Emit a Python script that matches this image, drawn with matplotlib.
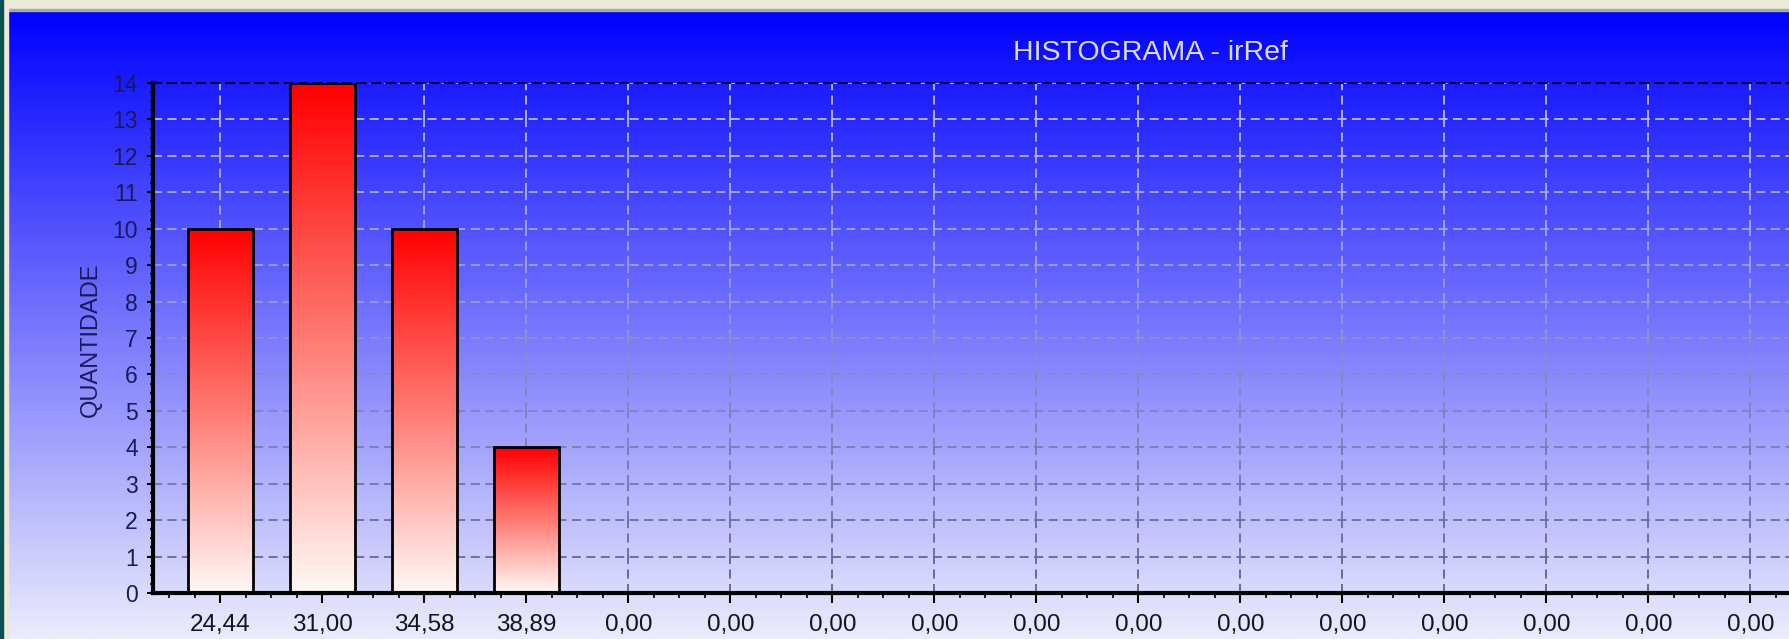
import matplotlib
matplotlib.use("Agg")
import matplotlib.pyplot as plt
import numpy as np
from matplotlib.colors import LinearSegmentedColormap
from matplotlib.collections import LineCollection
from matplotlib.patches import Rectangle
from matplotlib.ticker import MultipleLocator

plt.rcParams['font.family'] = ['Liberation Sans', 'DejaVu Sans']

# histogram classes and counts
classes = ["24,44", "31,00", "34,58", "38,89",
           "0,00", "0,00", "0,00", "0,00", "0,00", "0,00",
           "0,00", "0,00", "0,00", "0,00", "0,00", "0,00"]
counts = [10, 14, 10, 4, 0, 0, 0, 0, 0, 0, 0, 0, 0, 0, 0, 0]
y_ticks = list(range(0, 15))

W, H = 1789, 639
fig = plt.figure(figsize=(W / 100, H / 100), dpi=100)

# window background: blue -> lavender gradient with a thin frame
bg = fig.add_axes([0, 0, 1, 1])
bg.set_xlim(0, W)
bg.set_ylim(H, 0)
bg.axis('off')
t = np.linspace(0, 1, 512)[:, None]
top_c = np.array([0, 0, 255]) / 255
bot_c = np.array([236, 236, 252]) / 255
grad = (top_c * (1 - t) + bot_c * t)[:, None, :]
bg.imshow(grad, extent=[8, W, H, 10], aspect='auto', zorder=0)
bg.add_patch(Rectangle((0, 0), W, 10, color='#ece9d8', zorder=1))
bg.add_patch(Rectangle((0, 9), W, 1.5, color='#a8a8a8', zorder=1))
bg.add_patch(Rectangle((3, 0), 5, H, color='#ece9d8', zorder=1))
bg.add_patch(Rectangle((0, 0), 3, H, color='#0b5050', zorder=2))
bg.set_xlim(0, W)
bg.set_ylim(H, 0)

# plot area
left, right_px, top_px, bot_px = 153, W, 83, 593
ax = fig.add_axes([left / W, (H - bot_px) / H, (right_px - left) / W, (bot_px - top_px) / H])
ax.patch.set_alpha(0)

x = np.arange(len(classes))
px_per_cat = 102.0
x0 = -0.66
x1 = x0 + (right_px - left) / px_per_cat
ymax = 14

# dashed grid, lighter over the blue top and darker near the bottom
def grid_color(v):
    f = v / ymax
    lo = np.array([95, 95, 150]) / 255
    hi = np.array([195, 195, 255]) / 255
    return tuple(lo * (1 - f) + hi * f)

for yv in y_ticks[1:]:
    ax.axhline(yv, color=grid_color(yv), ls=(0, (5, 3)), lw=1.3, zorder=1)

segs, cols = [], []
for xi in x:
    for k in range(ymax):
        segs.append([(xi, k), (xi, k + 1)])
        cols.append(grid_color(k + 0.5))
ax.add_collection(LineCollection(segs, colors=cols, linestyles=[(0, (5, 3))], linewidths=1.3, zorder=1))

# bars with vertical red -> white fill
bar_cmap = LinearSegmentedColormap.from_list('redfade', ['#fff8f5', '#ff7a72', '#ff0000'])
bars = ax.bar(x, counts, width=0.64, facecolor='none', edgecolor='black', linewidth=2, zorder=3)
fill = np.linspace(0, 1, 256)[:, None]
for rect, h in zip(bars, counts):
    if h <= 0:
        continue
    bx = rect.get_x()
    im = ax.imshow(fill, extent=[bx, bx + rect.get_width(), 0, h], origin='lower',
                   aspect='auto', cmap=bar_cmap, zorder=2.5)
    im.set_clip_path(rect)

ax.set_xlim(x0, x1)
ax.set_ylim(0, ymax)

# axes styling
ax.spines['right'].set_visible(False)
ax.spines['top'].set_color('#000040')
ax.spines['top'].set_linestyle((0, (4, 3)))
ax.spines['top'].set_linewidth(1.5)
for s in ('left', 'bottom'):
    ax.spines[s].set_color('black')
    ax.spines[s].set_linewidth(3)

ax.set_xticks(x, classes)
ax.set_yticks(y_ticks)
ax.xaxis.set_minor_locator(MultipleLocator(0.25))
ax.yaxis.set_minor_locator(MultipleLocator(0.25))
ax.tick_params(axis='x', which='major', length=7, width=1.5, pad=8, labelsize=17.5, labelcolor='#141428')
ax.tick_params(axis='x', which='minor', length=3.5, width=1.2)
ax.tick_params(axis='y', which='major', length=4, width=1.5, pad=7, labelsize=16.5, labelcolor='#1a1a5a')
ax.tick_params(axis='y', which='minor', length=2.5, width=1.2)

fig.text(91 / W, 1 - 340 / H, 'QUANTIDADE', rotation=90, ha='center', va='center',
         fontsize=17, color='#1a1a5a')
fig.text(1150 / W, 1 - 53 / H, 'HISTOGRAMA - irRef', ha='center', va='center',
         fontsize=20.5, color='#dcdcec')

fig.savefig('out.png', dpi=100)
